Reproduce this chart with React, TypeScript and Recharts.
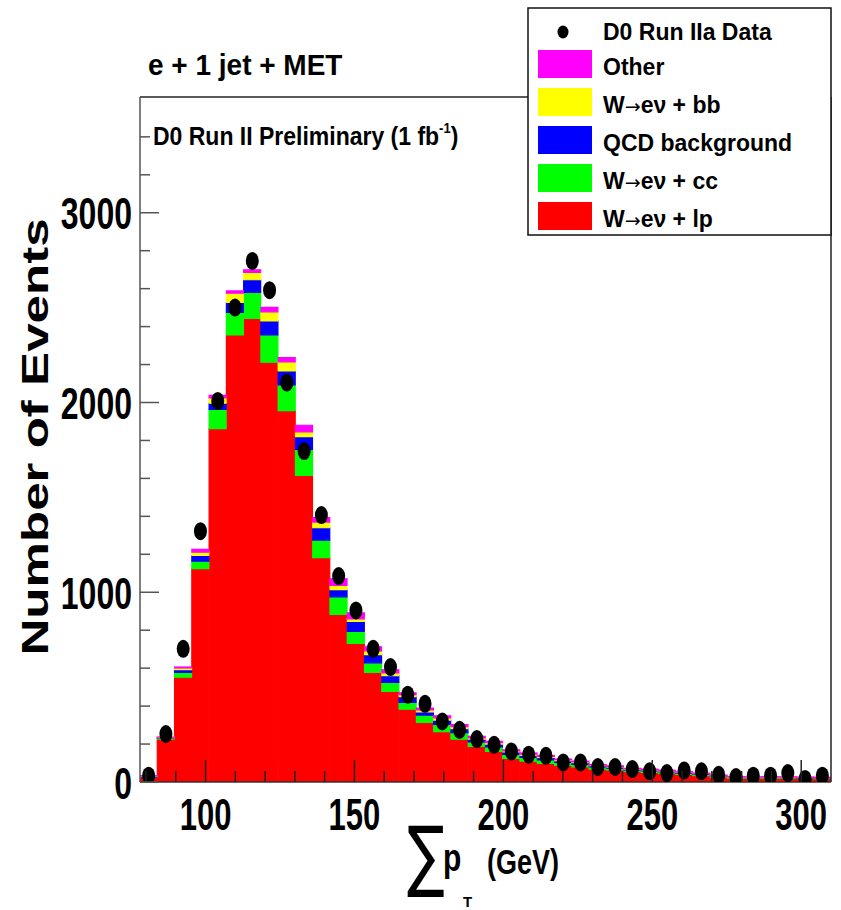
import React from "react";
import {
  ComposedChart,
  Bar,
  Line,
  XAxis,
  YAxis,
  ReferenceLine,
  Legend,
  Customized,
} from "recharts";

// sum pT bins (GeV), bin centres
const binCenters = [
  80.9, 86.7, 92.5, 98.3, 104.1, 109.9, 115.7, 121.5, 127.3, 133.1,
  138.9, 144.7, 150.5, 156.3, 162.1, 167.9, 173.7, 179.5, 185.3, 191.1,
  196.9, 202.7, 208.5, 214.3, 220.1, 225.9, 231.7, 237.5, 243.3, 249.1,
  254.9, 260.7, 266.5, 272.3, 278.1, 283.9, 289.7, 295.5, 301.3, 307.1,
];

const wLightParton = [
  24, 226, 552, 1124, 1862, 2356, 2443, 2212, 1957, 1616,
  1182, 883, 730, 578, 477, 384, 314, 266, 226, 187,
  161, 125, 110, 98, 88, 80, 68, 64, 56, 51,
  47, 40, 34, 26, 20, 19, 20, 19, 19, 18,
];
const wCharm = [
  2, 6, 26, 40, 102, 119, 137, 144, 136, 137,
  93, 93, 64, 50, 48, 36, 38, 37, 34, 24,
  24, 20, 19, 19, 15, 13, 11, 9, 7, 8,
  7, 6, 6, 4, 4, 4, 4, 4, 3, 3,
];
const qcdBackground = [
  5, 2, 14, 30, 32, 52, 67, 74, 73, 67,
  65, 38, 53, 43, 36, 30, 18, 23, 21, 15,
  15, 13, 12, 12, 9, 9, 7, 6, 5, 5,
  4, 4, 4, 3, 2, 2, 2, 2, 2, 2,
];
const wBottom = [
  1, 2, 9, 17, 28, 49, 39, 48, 48, 25,
  30, 22, 13, 20, 14, 10, 10, 12, 11, 7,
  7, 6, 6, 6, 5, 4, 3, 3, 2, 2,
  2, 2, 2, 2, 1, 1, 1, 1, 1, 1,
];
const otherBkg = [
  1, 1, 5, 15, 14, 12, 13, 23, 23, 35,
  23, 35, 32, 21, 16, 10, 10, 11, 10, 7,
  7, 6, 6, 5, 4, 4, 3, 3, 2, 2,
  2, 2, 1, 1, 1, 1, 1, 1, 1, 1,
];
const d0Data = [
  33, 253, 702, 1322, 2008, 2500, 2746, 2592, 2105, 1744,
  1407, 1085, 904, 702, 606, 460, 412, 319, 275, 226,
  196, 161, 144, 138, 103, 103, 79, 79, 68, 56,
  47, 60, 56, 38, 26, 33, 33, 47, 16, 33,
];

const xTicks = [
  80, 90, 100, 110, 120, 130, 140, 150, 160, 170, 180, 190, 200,
  210, 220, 230, 240, 250, 260, 270, 280, 290, 300,
];
const yTicks = [
  0, 200, 400, 600, 800, 1000, 1200, 1400, 1600, 1800, 2000,
  2200, 2400, 2600, 2800, 3000, 3200, 3400,
];

const rows = binCenters.map((c, i) => ({
  center: c,
  lp: wLightParton[i],
  cc: wCharm[i],
  qcd: qcdBackground[i],
  bb: wBottom[i],
  other: otherBkg[i],
  data: d0Data[i],
}));

const FONT = "'Liberation Sans', Arial, Helvetica, sans-serif";
const AXIS_COLOR = "#555";

const YTick = (props: any) => {
  const { x, y, payload } = props;
  const v = payload.value;
  const major = v % 1000 === 0;
  return (
    <g>
      <line x1={x + 8} x2={x + 8 + (major ? 19 : 10)} y1={y} y2={y} stroke={AXIS_COLOR} strokeWidth={1.5} />
      {major && (
        <text
          transform={`translate(${x},${y + 16.5}) scale(1,1.38)`}
          textAnchor="end"
          fontFamily={FONT}
          fontWeight="bold"
          fontSize={32}
          fill="#000"
        >
          {v}
        </text>
      )}
    </g>
  );
};

const XTick = (props: any) => {
  const { x, y, payload } = props;
  const v = payload.value;
  const major = v % 50 === 0;
  return (
    <g>
      <line x1={x} x2={x} y1={y} y2={y - (major ? 22 : 11)} stroke="#222" strokeWidth={1.5} />
      {major && (
        <text
          transform={`translate(${x},${y + 48}) scale(1,1.45)`}
          textAnchor="middle"
          fontFamily={FONT}
          fontWeight="bold"
          fontSize={31}
          fill="#000"
        >
          {v}
        </text>
      )}
    </g>
  );
};

const DataDot = (props: any) => {
  const { cx, cy, index } = props;
  if (cx == null || cy == null) return <g key={index} />;
  return <ellipse key={index} cx={cx} cy={cy} rx={6.5} ry={9} fill="#000" />;
};

const legendOrder = ["data", "other", "bb", "qcd", "cc", "lp"];

const LegendLabel = ({ text, x, y }: { text: string; x: number; y: number }) => {
  const parts = text.split("→");
  return (
    <text x={x} y={y} fontFamily={FONT} fontWeight="bold" fontSize={23} fill="#000">
      {parts.length > 1 ? (
        <>
          {parts[0]}
          <tspan fontSize={19} fontWeight="normal" fontFamily="'DejaVu Sans', sans-serif">→</tspan>
          {parts[1]}
        </>
      ) : (
        text
      )}
    </text>
  );
};

const renderLegend = (props: any) => {
  const payload: any[] = props.payload || [];
  const sorted = legendOrder
    .map((k) => payload.find((p) => p.dataKey === k))
    .filter(Boolean);
  return (
    <svg width={305} height={229} style={{ display: "block" }}>
      <rect x={1} y={1} width={303} height={227} fill="#fff" stroke="#111" strokeWidth={1.5} />
      {sorted.map((p: any, i: number) => {
        if (p.dataKey === "data") {
          return (
            <g key="data">
              <ellipse cx={36} cy={25} rx={5.5} ry={6.5} fill="#000" />
              <LegendLabel text={p.value} x={76} y={33} />
            </g>
          );
        }
        const top = 43 + (i - 1) * 38;
        return (
          <g key={p.dataKey}>
            <rect x={11} y={top} width={54} height={28} fill={p.color} />
            <LegendLabel text={p.value} x={76} y={top + 25} />
          </g>
        );
      })}
    </svg>
  );
};

const Titles = () => (
  <g fontFamily={FONT} fontWeight="bold" fill="#000">
    <text transform="translate(148,75) scale(1,1.07)" fontSize={28}>
      e + 1 jet + MET
    </text>
    <text transform="translate(153,145) scale(1,1.16)" fontSize={23}>
      D0 Run II Preliminary (1 fb
      <tspan fontSize={13} dy={-10}>-1</tspan>
      <tspan dy={10}>)</tspan>
    </text>
    <text transform="translate(48,437) rotate(-90) scale(1.4,1)" fontSize={36.5} textAnchor="middle">
      Number of Events
    </text>
    <text transform="translate(407,882) scale(1,1.4)" fontSize={56} fontFamily="'DejaVu Sans', sans-serif" fontWeight="normal">
      ∑
    </text>
    <text transform="translate(443,871) scale(1,1.3)" fontSize={30}>
      p
    </text>
    <text transform="translate(463,907)" fontSize={15}>
      T
    </text>
    <text transform="translate(487,874) scale(1,1.3)" fontSize={27}>
      (GeV)
    </text>
  </g>
);

export default function App() {
  return (
    <div style={{ position: "absolute", left: 0, top: 0, width: 841, height: 910, background: "#fff" }}>
      <ComposedChart
        width={841}
        height={910}
        data={rows}
        margin={{ top: 97, right: 10, bottom: 68, left: 60 }}
        barCategoryGap={0}
        barGap={0}
      >
        <XAxis
          dataKey="center"
          type="number"
          domain={[78, 310]}
          allowDataOverflow
          ticks={xTicks}
          interval={0}
          tick={<XTick />}
          tickSize={0}
          tickMargin={0}
          height={60}
          axisLine={{ stroke: "#333", strokeWidth: 1.5 }}
        />
        <YAxis
          type="number"
          domain={[0, 3610]}
          allowDataOverflow
          ticks={yTicks}
          interval={0}
          tick={<YTick />}
          tickSize={0}
          tickMargin={8}
          width={80}
          axisLine={{ stroke: AXIS_COLOR, strokeWidth: 1.5 }}
        />
        <Bar dataKey="lp" name="W→eν + lp" stackId="mc" fill="#ff0000" stroke="#ff0000" strokeWidth={1.2} isAnimationActive={false} />
        <Bar dataKey="cc" name="W→eν + cc" stackId="mc" fill="#00ff00" stroke="#00ff00" strokeWidth={1.2} isAnimationActive={false} />
        <Bar dataKey="qcd" name="QCD background" stackId="mc" fill="#0000ff" stroke="#0000ff" strokeWidth={1.2} isAnimationActive={false} />
        <Bar dataKey="bb" name="W→eν + bb" stackId="mc" fill="#ffff00" stroke="#ffff00" strokeWidth={1.2} isAnimationActive={false} />
        <Bar dataKey="other" name="Other" stackId="mc" fill="#ff00ff" stroke="#ff00ff" strokeWidth={1.2} isAnimationActive={false} />
        <Line
          dataKey="data"
          name="D0 Run IIa Data"
          stroke="none"
          dot={DataDot}
          activeDot={false}
          isAnimationActive={false}
        />
        <ReferenceLine y={3610} stroke="#222" strokeWidth={1.5} />
        <ReferenceLine x={310} stroke="#222" strokeWidth={1.5} />
        <Customized component={Titles} />
        <Legend
          layout="vertical"
          align="center"
          verticalAlign="middle"
          content={renderLegend}
          wrapperStyle={{ left: 527, top: 7, width: 305, height: 229 }}
        />
      </ComposedChart>
    </div>
  );
}
